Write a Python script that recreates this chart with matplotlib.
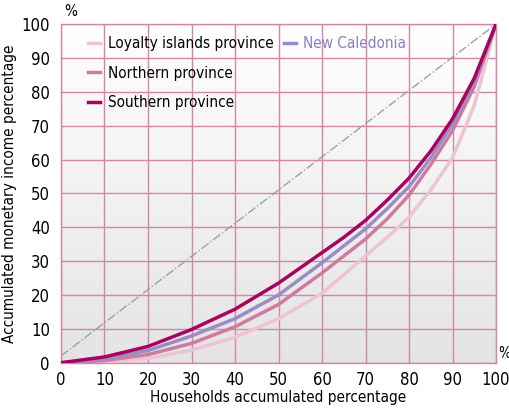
import numpy as np
import matplotlib.pyplot as plt
from matplotlib.colors import LinearSegmentedColormap

# Lorenz curves (households accumulated % -> accumulated monetary income %)
households = [0, 10, 20, 30, 40, 50, 60, 65, 70, 75, 80, 85, 90, 95, 100]
southern = [0, 1.7, 4.8, 9.8, 15.8, 23.5, 32.5, 37, 42, 48, 54.5, 62.5, 72, 84, 100]
new_caledonia = [0, 1.1, 3.6, 7.9, 13, 20, 29.5, 34.5, 39.5, 45.5, 52, 60.5, 70.5, 83, 100]
northern = [0, 0.6, 2.4, 5.7, 10.6, 17.2, 26.5, 31.5, 36.5, 42.5, 49.5, 58.5, 68.5, 81.5, 100]
loyalty = [0, 0.3, 1.3, 3.7, 7.5, 13, 20.5, 26, 31.5, 37, 43, 51, 60.5, 76, 100]
equality_x = [0, 100]
equality_y = [2, 100]

ticks = list(range(0, 101, 10))

plt.rcParams['font.family'] = ['DejaVu Sans']
plt.rcParams['font.stretch'] = 'condensed'

grid_col = '#d386a8'

fig = plt.figure(figsize=(5.1, 4.11), dpi=100)
ax = fig.add_axes([0.1196, 0.1175, 0.853, 0.824])

# fond dégradé blanc -> gris
grad = np.linspace(1, 0, 256).reshape(-1, 1)
cmap = LinearSegmentedColormap.from_list('g', ['#e4e4e4', '#ffffff'])
ax.imshow(grad, extent=[0, 100, 0, 100], aspect='auto', cmap=cmap, zorder=0, origin='upper')

ax.plot(equality_x, equality_y, color='#a0a0a0', lw=1, ls='-.', zorder=2)
l1, = ax.plot(households, loyalty, color='#ecc4d4', lw=2.5, zorder=3, label='Loyalty islands province')
l2, = ax.plot(households, northern, color='#cd7c9f', lw=2.5, zorder=4, label='Northern province')
l4, = ax.plot(households, new_caledonia, color='#9a8dc6', lw=2.5, zorder=5, label='New Caledonia')
l3, = ax.plot(households, southern, color='#a8035e', lw=2.5, zorder=6, label='Southern province')

ax.set_xlim(0, 100)
ax.set_ylim(0, 100)
ax.set_xticks(ticks)
ax.set_yticks(ticks)
ax.tick_params(length=0, labelsize=12, pad=6)
ax.tick_params(axis='y', pad=8)
ax.grid(True, color=grid_col, lw=1, zorder=1)
for s in ax.spines.values():
    s.set_color(grid_col)
    s.set_linewidth(1)

ax.set_xlabel('Households accumulated percentage', fontsize=11, labelpad=1)
ax.set_ylabel('Accumulated monetary income percentage', fontsize=11, labelpad=3)
ax.text(0.8, 101.5, '%', fontsize=11, ha='left', va='bottom')
ax.text(100.4, 0.5, '%', fontsize=10.5, ha='left', va='bottom')

leg1 = ax.legend(handles=[l1, l2, l3], loc='upper left', bbox_to_anchor=(0.03, 1.005),
                 frameon=False, fontsize=11, handlelength=0.8, handletextpad=0.5,
                 labelspacing=0.95)
ax.add_artist(leg1)
leg2 = ax.legend(handles=[l4], loc='upper left', bbox_to_anchor=(0.48, 1.005),
                 frameon=False, fontsize=11, handlelength=0.8, handletextpad=0.5)
for t in leg2.get_texts():
    t.set_color('#8a7fbf')

fig.savefig('out.png', dpi=100)
